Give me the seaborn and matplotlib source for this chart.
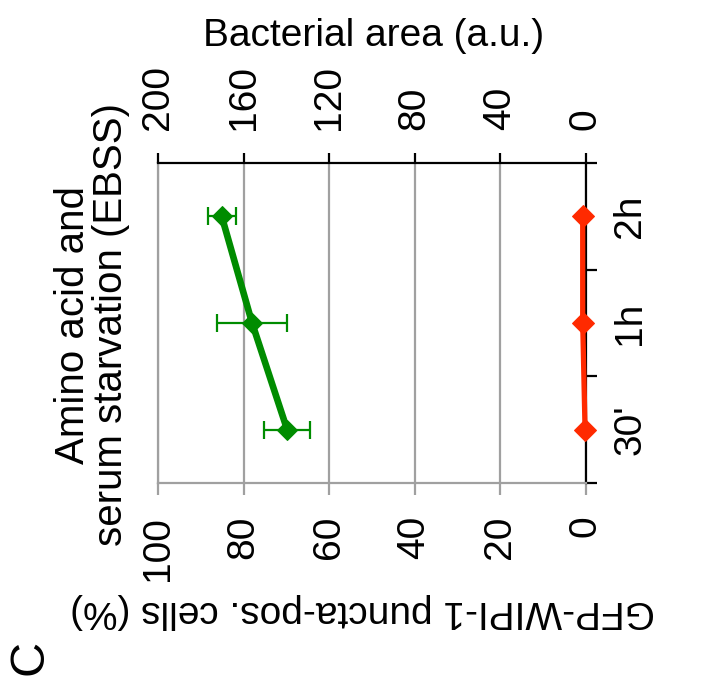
import numpy as np
import pandas as pd
import matplotlib
matplotlib.use("Agg")
import matplotlib.pyplot as plt
import seaborn as sns

# Time points after switching to EBSS, bottom to top
timepoints = ["30'", "1h", "2h"]
# GFP-WIPI-1 puncta-positive cells (%), mean and SD
gfp_wipi1_pct = [69.8, 78.0, 85.1]
gfp_wipi1_sd = [5.4, 8.2, 3.3]
# Bacterial area (a.u.)
bacterial_area = [0.3, 1.4, 1.4]

pct_ticks = [100, 80, 60, 40, 20, 0]
area_ticks = [200, 160, 120, 80, 40, 0]

sns.set_theme(style="white")
plt.rcParams["font.family"] = ["Liberation Sans", "DejaVu Sans"]
plt.rcParams["text.color"] = "black"

W, H = 724, 698
fig = plt.figure(figsize=(W / 100, H / 100), dpi=100)


def px_to_fig(x, y):
    return x / W, 1 - y / H


ax_left, ax_right, ax_top, ax_bottom = 158, 585.7, 163, 483
ax = fig.add_axes([ax_left / W, 1 - ax_bottom / H,
                   (ax_right - ax_left) / W, (ax_bottom - ax_top) / H])
ax2 = ax.twiny()

pos = np.arange(len(timepoints))
df = pd.DataFrame({
    "time": timepoints,
    "pos": pos,
    "pct": gfp_wipi1_pct,
    "sd": gfp_wipi1_sd,
    "area": bacterial_area,
})

green = "#008c00"
red = "#ff2a00"
grid_grey = "#a0a0a0"
fs = 28

# GFP-WIPI-1 puncta (bottom axis) with SD whiskers
ax.errorbar(df["pct"], df["pos"], xerr=df["sd"], fmt="none", ecolor=green,
            elinewidth=1.6, capsize=6.5, capthick=1.6, zorder=3)
sns.lineplot(data=df, x="pct", y="pos", orient="y", sort=False, ax=ax,
             color=green, lw=4.8, marker="D", markersize=10.5,
             markeredgecolor=green, errorbar=None, zorder=4, legend=False,
             clip_on=False)

# Bacterial area (top axis)
sns.lineplot(data=df, x="area", y="pos", orient="y", sort=False, ax=ax2,
             color=red, lw=3.8, marker="D", markersize=11,
             markeredgecolor=red, errorbar=None, zorder=4, legend=False,
             clip_on=False)

# Bottom axis: percentage, reversed
ax.set_xlim(100, 0)
ax.set_xticks(pct_ticks)
ax.set_xticklabels([str(t) for t in pct_ticks], rotation=90)
ax.xaxis.grid(True, color=grid_grey, lw=1.6)
ax.yaxis.grid(False)
ax.tick_params(axis="x", which="major", direction="out", length=8.6, width=1.6,
               color=grid_grey, pad=15, labelsize=fs, labelcolor="black",
               bottom=True, top=False)

# Category axis on the right
ax.set_ylim(-0.5, 2.5)
ax.yaxis.tick_right()
ax.set_yticks(pos)
ax.set_yticklabels(timepoints, rotation=90, va="center")
ax.set_yticks(list(pos - 0.5) + [pos[-1] + 0.5], minor=True)
ax.tick_params(axis="y", which="major", length=0, pad=19, labelsize=fs,
               labelcolor="black", right=True, left=False)
ax.tick_params(axis="y", which="minor", direction="out", length=8, width=1.6,
               color="black", right=True, left=False)

for side in ("left", "bottom"):
    ax.spines[side].set_color(grid_grey)
    ax.spines[side].set_linewidth(1.6)
ax.spines["top"].set_visible(False)
ax.spines["right"].set_color("black")
ax.spines["right"].set_linewidth(1.6)

# Top axis: bacterial area, reversed
ax2.set_xlim(200, 0)
ax2.set_xticks(area_ticks)
ax2.set_xticklabels([str(t) for t in area_ticks], rotation=90)
ax2.tick_params(axis="x", which="major", direction="out", length=7.2, width=1.6,
                color="black", pad=16.5, labelsize=fs, labelcolor="black",
                top=True, bottom=False)
for side in ("left", "bottom", "right"):
    ax2.spines[side].set_visible(False)
ax2.spines["top"].set_color("black")
ax2.spines["top"].set_linewidth(1.6)

for a in (ax, ax2):
    a.set_xlabel("")
    a.set_ylabel("")

# Axis titles and panel letter
fig.text(*px_to_fig(374, 36), "Bacterial area (a.u.)", fontsize=fs,
         ha="center", va="center")
fig.text(*px_to_fig(363, 611), "GFP-WIPI-1 puncta-pos. cells (%)", fontsize=fs,
         ha="center", va="center", rotation=180)
fig.text(*px_to_fig(92, 325), "Amino acid and\nserum starvation (EBSS)",
         fontsize=29, ha="center", va="center", rotation=90,
         multialignment="center", linespacing=1.02)
fig.text(*px_to_fig(30, 657), "C", fontsize=35, ha="center", va="center",
         rotation=90)

fig.savefig("out.png", dpi=100)
